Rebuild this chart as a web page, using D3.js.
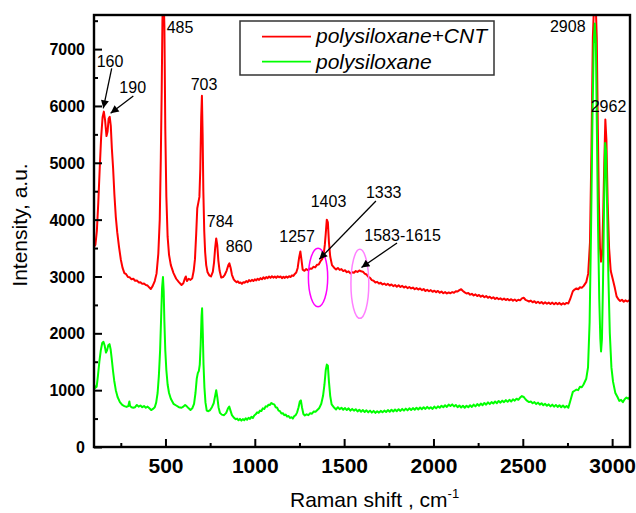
<!DOCTYPE html>
<html>
<head>
<meta charset="utf-8">
<script src="https://cdnjs.cloudflare.com/ajax/libs/d3/7.8.5/d3.min.js"></script>
<style>
  html, body { margin: 0; padding: 0; background: #fff; }
  svg { display: block; font-family: "Liberation Sans", Arial, sans-serif; }
  .tick line { stroke: #000; stroke-width: 2; }
</style>
</head>
<body>
<div id="chart"></div>
<script>
// spectra: [Raman shift, intensity]
const cntSpectrum = [
  [100, 3520], [108, 3560], [116, 3800], [124, 4300], [132, 4900], [140, 5450], [148, 5800], [155, 5900],
  [162, 5750], [170, 5470], [176, 5550], [182, 5780], [188, 5810], [194, 5650], [200, 5250], [207, 4900],
  [214, 4450], [222, 4050], [230, 3780], [240, 3520], [250, 3300], [260, 3150], [270, 3060], [280, 3040],
  [290, 2990], [300, 2985], [310, 2950], [320, 2960], [330, 2925], [340, 2930], [350, 2895], [360, 2900],
  [370, 2870], [380, 2875], [390, 2850], [400, 2840], [410, 2805], [418, 2780], [428, 2830], [440, 2920],
  [450, 3050], [460, 3400], [468, 4000], [474, 5100], [479, 6300], [483, 7500], [486, 7900], [490, 7900],
  [494, 7400], [499, 5600], [505, 4400], [512, 3700], [520, 3380], [530, 3200], [545, 3060], [560, 2960],
  [575, 2900], [590, 2850], [600, 2880], [608, 2960], [614, 3000], [620, 2920], [630, 2960], [640, 2940],
  [650, 2970], [658, 3100], [665, 3300], [672, 3750], [678, 4200], [684, 4300], [690, 4400], [695, 4900],
  [700, 5800], [704, 6180], [708, 5500], [712, 4500], [717, 3800], [722, 3430], [728, 3200], [735, 3080],
  [745, 3020], [755, 3000], [765, 3080], [772, 3250], [778, 3500], [784, 3670], [790, 3550], [796, 3280],
  [803, 3100], [812, 2980], [822, 2990], [832, 3030], [842, 3100], [852, 3200], [858, 3230], [865, 3150],
  [872, 3030], [882, 2950], [890, 2920], [898, 2900], [905, 2915], [912, 2885], [920, 2895], [928, 2870],
  [936, 2900], [944, 2890], [952, 2920], [960, 2900], [968, 2935], [976, 2915], [984, 2940], [992, 2920],
  [1000, 2950], [1008, 2930], [1016, 2960], [1024, 2940], [1032, 2970], [1040, 2950], [1048, 2985], [1056, 2960],
  [1064, 2990], [1072, 2970], [1080, 3000], [1088, 2975], [1096, 3005], [1104, 2980], [1112, 3000], [1120, 2975],
  [1128, 3005], [1136, 2985], [1144, 3000], [1152, 2970], [1160, 2995], [1168, 2975], [1176, 3000], [1184, 2980],
  [1192, 3005], [1200, 2990], [1208, 3020], [1216, 3010], [1224, 3045], [1232, 3070], [1240, 3150], [1248, 3330],
  [1255, 3440], [1261, 3300], [1268, 3120], [1278, 3100], [1288, 3130], [1298, 3110], [1308, 3140], [1318, 3135],
  [1328, 3170], [1338, 3160], [1348, 3205], [1358, 3210], [1368, 3270], [1378, 3310], [1386, 3400], [1392, 3560],
  [1397, 3750], [1403, 4000], [1409, 3950], [1415, 3600], [1422, 3350], [1432, 3200], [1445, 3150], [1455, 3125],
  [1465, 3150], [1475, 3115], [1485, 3130], [1495, 3095], [1505, 3110], [1515, 3075], [1525, 3090], [1535, 3055],
  [1545, 3075], [1555, 3065], [1565, 3095], [1575, 3080], [1585, 3105], [1595, 3090], [1605, 3085], [1615, 3050],
  [1625, 3035], [1635, 2995], [1645, 2975], [1655, 2935], [1665, 2925], [1675, 2895], [1685, 2905], [1695, 2875],
  [1705, 2890], [1715, 2860], [1725, 2875], [1735, 2850], [1745, 2870], [1755, 2840], [1765, 2860], [1775, 2830],
  [1785, 2850], [1795, 2820], [1805, 2845], [1815, 2815], [1825, 2835], [1835, 2805], [1845, 2825], [1855, 2795],
  [1865, 2815], [1875, 2790], [1885, 2805], [1895, 2775], [1905, 2795], [1915, 2770], [1925, 2790], [1935, 2760],
  [1945, 2780], [1955, 2745], [1965, 2765], [1975, 2740], [1985, 2760], [1995, 2730], [2005, 2750], [2015, 2725],
  [2025, 2745], [2035, 2715], [2045, 2735], [2055, 2705], [2065, 2725], [2075, 2700], [2085, 2720], [2095, 2705],
  [2105, 2725], [2115, 2715], [2125, 2740], [2135, 2735], [2145, 2760], [2155, 2775], [2165, 2745], [2175, 2720],
  [2185, 2700], [2195, 2710], [2205, 2680], [2215, 2695], [2225, 2665], [2235, 2685], [2245, 2655], [2255, 2675],
  [2265, 2645], [2275, 2665], [2285, 2635], [2295, 2655], [2305, 2625], [2315, 2645], [2325, 2615], [2335, 2635],
  [2345, 2605], [2355, 2625], [2365, 2600], [2375, 2615], [2385, 2590], [2395, 2610], [2405, 2585], [2415, 2605],
  [2425, 2580], [2435, 2600], [2445, 2575], [2455, 2595], [2465, 2570], [2475, 2590], [2485, 2580], [2495, 2615],
  [2505, 2625], [2515, 2590], [2525, 2575], [2535, 2560], [2545, 2575], [2555, 2545], [2565, 2565], [2575, 2535],
  [2585, 2555], [2595, 2530], [2605, 2550], [2615, 2520], [2625, 2545], [2635, 2520], [2645, 2540], [2655, 2515],
  [2665, 2540], [2675, 2510], [2685, 2535], [2695, 2510], [2705, 2535], [2715, 2505], [2725, 2530], [2735, 2510],
  [2745, 2535], [2755, 2525], [2765, 2600], [2780, 2740], [2790, 2770], [2800, 2790], [2810, 2775], [2820, 2810],
  [2830, 2800], [2840, 2830], [2855, 2900], [2866, 3050], [2876, 3600], [2884, 5200], [2892, 7200], [2900, 7900],
  [2907, 7900], [2914, 7200], [2920, 5600], [2926, 4300], [2932, 3500], [2938, 3260], [2944, 3400], [2950, 4100],
  [2956, 5000], [2962, 5760], [2968, 5400], [2975, 4300], [2983, 3500], [2992, 3100], [3003, 2960], [3015, 2800],
  [3025, 2650], [3035, 2600], [3045, 2570], [3055, 2590], [3065, 2555], [3075, 2580], [3085, 2560], [3100, 2590],
];

const baseSpectrum = [
  [100, 1100], [108, 1040], [115, 1060], [122, 1250], [130, 1500], [138, 1700], [146, 1830], [153, 1850],
  [160, 1780], [167, 1660], [173, 1700], [180, 1790], [187, 1810], [193, 1720], [199, 1560], [206, 1350],
  [213, 1170], [222, 1000], [232, 880], [245, 790], [258, 740], [270, 720], [282, 705], [292, 720],
  [298, 800], [302, 720], [310, 700], [320, 690], [330, 700], [340, 740], [350, 710], [360, 730],
  [370, 700], [380, 720], [390, 690], [400, 710], [410, 680], [420, 650], [430, 670], [440, 700],
  [448, 780], [456, 950], [463, 1250], [470, 1700], [476, 2300], [481, 2800], [486, 2990], [490, 2750],
  [494, 2200], [499, 1700], [505, 1350], [512, 1100], [520, 950], [530, 850], [545, 760], [560, 730],
  [575, 700], [590, 690], [600, 710], [610, 740], [618, 720], [630, 680], [640, 650], [650, 680],
  [660, 760], [668, 950], [675, 1200], [681, 1300], [687, 1340], [692, 1450], [697, 1800], [702, 2300],
  [705, 2440], [709, 2000], [713, 1450], [718, 1050], [724, 780], [731, 640], [740, 630], [750, 650],
  [760, 700], [770, 770], [778, 900], [784, 1000], [790, 880], [797, 700], [805, 600], [815, 570],
  [828, 560], [840, 600], [850, 680], [857, 710], [864, 640], [872, 560], [885, 510], [893, 490],
  [901, 500], [909, 470], [917, 495], [925, 465], [933, 490], [941, 470], [949, 505], [957, 480],
  [965, 515], [973, 495], [981, 530], [989, 510], [997, 555], [1005, 575], [1013, 610], [1021, 600],
  [1029, 640], [1037, 635], [1045, 680], [1053, 670], [1061, 715], [1069, 710], [1077, 745], [1085, 740],
  [1093, 775], [1101, 755], [1109, 750], [1117, 700], [1125, 690], [1133, 640], [1141, 630], [1149, 590],
  [1157, 595], [1165, 560], [1173, 570], [1181, 535], [1189, 545], [1197, 510], [1205, 525], [1213, 500],
  [1221, 545], [1229, 560], [1237, 610], [1245, 700], [1252, 800], [1258, 820], [1264, 700], [1272, 580],
  [1280, 555], [1290, 575], [1300, 560], [1310, 595], [1320, 585], [1330, 625], [1340, 620], [1350, 650],
  [1360, 680], [1372, 760], [1382, 900], [1390, 1100], [1397, 1350], [1403, 1450], [1409, 1430], [1415, 1150],
  [1422, 900], [1430, 750], [1445, 690], [1455, 660], [1465, 700], [1475, 665], [1485, 690], [1495, 655],
  [1505, 685], [1515, 650], [1525, 680], [1535, 640], [1545, 670], [1555, 640], [1565, 665], [1575, 625],
  [1585, 655], [1595, 620], [1605, 650], [1615, 615], [1625, 645], [1635, 610], [1645, 640], [1655, 605],
  [1665, 635], [1675, 600], [1685, 630], [1695, 605], [1705, 635], [1715, 610], [1725, 640], [1735, 615],
  [1745, 650], [1755, 620], [1765, 655], [1775, 625], [1785, 660], [1795, 630], [1805, 665], [1815, 635],
  [1825, 670], [1835, 640], [1845, 675], [1855, 645], [1865, 680], [1875, 650], [1885, 685], [1895, 655],
  [1905, 690], [1915, 660], [1925, 695], [1935, 665], [1945, 700], [1955, 670], [1965, 705], [1975, 675],
  [1985, 700], [1995, 670], [2005, 710], [2015, 680], [2025, 715], [2035, 690], [2045, 725], [2055, 700],
  [2065, 735], [2075, 705], [2085, 745], [2095, 720], [2105, 750], [2115, 715], [2125, 740], [2135, 700],
  [2145, 730], [2155, 695], [2165, 725], [2175, 690], [2185, 725], [2195, 700], [2205, 735], [2215, 705],
  [2225, 745], [2235, 715], [2245, 755], [2255, 725], [2265, 765], [2275, 735], [2285, 775], [2295, 745],
  [2305, 785], [2315, 755], [2325, 790], [2335, 765], [2345, 800], [2355, 770], [2365, 810], [2375, 780],
  [2385, 815], [2395, 790], [2405, 825], [2415, 795], [2425, 830], [2435, 800], [2445, 840], [2455, 815],
  [2465, 850], [2475, 830], [2485, 870], [2495, 895], [2505, 880], [2515, 840], [2525, 810], [2535, 790],
  [2545, 800], [2555, 770], [2565, 790], [2575, 755], [2585, 780], [2595, 745], [2605, 770], [2615, 735],
  [2625, 760], [2635, 725], [2645, 750], [2655, 715], [2665, 745], [2675, 710], [2685, 740], [2695, 705],
  [2705, 735], [2715, 700], [2725, 730], [2735, 695], [2745, 720], [2755, 690], [2765, 800], [2780, 970],
  [2790, 990], [2800, 1010], [2810, 1000], [2820, 1060], [2830, 1050], [2840, 1100], [2855, 1200], [2865, 1400],
  [2874, 2200], [2882, 3800], [2890, 5800], [2897, 7100], [2903, 7450], [2909, 7100], [2915, 5500], [2921, 3900],
  [2928, 2600], [2934, 1900], [2938, 1680], [2943, 1900], [2949, 2900], [2955, 4300], [2961, 5350], [2966, 5200],
  [2972, 4200], [2979, 3000], [2987, 2000], [2996, 1400], [3005, 1150], [3018, 950], [3030, 880], [3040, 810],
  [3050, 830], [3060, 790], [3070, 840], [3080, 870], [3090, 850], [3100, 880],
];

const seriesNames = ['polysiloxane+CNT', 'polysiloxane'];
const seriesColors = ['#ff0000', '#00ff00'];

const xMajorTicks = [500, 1000, 1500, 2000, 2500, 3000];
const xMinorTicks = [250, 750, 1250, 1750, 2250, 2750];
const yMajorTicks = [0, 1000, 2000, 3000, 4000, 5000, 6000, 7000];
const yMinorTicks = [500, 1500, 2500, 3500, 4500, 5500, 6500, 7500];

// peak labels: text, anchor (shift, intensity) of the text start/baseline
const peakLabels = [
  ['160', 115, 6690], ['190', 242, 6233], ['485', 507, 7278], ['703', 641, 6281],
  ['784', 731, 3865], ['860', 837, 3425], ['1257', 1137, 3612], ['1403', 1313, 4217],
  ['1333', 1622, 4375], ['1583-1615', 1613, 3629], ['2908', 2652, 7306], ['2962', 2880, 5899],
];

// arrows: from (shift, intensity) to (shift, intensity)
const peakArrows = [
  [199, 6662, 152, 5959],
  [320, 6175, 193, 5871],
  [1678, 4328, 1361, 3302],
  [1796, 3589, 1597, 3158],
];

// ellipses: centre shift, centre intensity, half width (shift), half height (intensity), colour
const bandMarks = [
  [1354, 2982, 54, 514, '#ff00ff'],
  [1588, 2871, 50, 607, '#ff80ff'],
];

const width = 636;
const height = 513;
const margin = { top: 15, right: 6, bottom: 66, left: 94 };
const plotW = width - margin.left - margin.right;
const plotH = height - margin.top - margin.bottom;

const svg = d3.select('#chart')
  .append('svg')
  .attr('width', width)
  .attr('height', height);

const x = d3.scaleLinear()
  .domain([100, 3100])
  .range([0, plotW]);

const y = d3.scaleLinear()
  .domain([0, 7600])
  .range([plotH, 0]);

svg.append('defs')
  .append('clipPath')
  .attr('id', 'plotClip')
  .append('rect')
  .attr('x', 0)
  .attr('y', 0)
  .attr('width', plotW)
  .attr('height', plotH);

const g = svg.append('g')
  .attr('transform', `translate(${margin.left},${margin.top})`);

// spectra
const line = d3.line()
  .x(d => x(d[0]))
  .y(d => y(d[1]));

const plot = g.append('g')
  .attr('clip-path', 'url(#plotClip)');

[cntSpectrum, baseSpectrum].forEach((data, i) => {
  plot.append('path')
    .datum(data)
    .attr('fill', 'none')
    .attr('stroke', seriesColors[i])
    .attr('stroke-width', 2)
    .attr('stroke-linejoin', 'round')
    .attr('d', line);
});

// axes, ticks pointing inward
const xAxis = g.append('g')
  .attr('transform', `translate(0,${plotH})`)
  .call(d3.axisBottom(x).tickValues(xMajorTicks).tickSize(-8).tickFormat(d3.format('d')));
xAxis.selectAll('text')
  .attr('y', 26)
  .attr('dy', 0)
  .attr('font-size', 21)
  .attr('font-weight', 'bold')
  .attr('font-family', '"Liberation Sans", Arial, sans-serif')
  .attr('fill', '#000');

g.append('g')
  .attr('transform', `translate(0,${plotH})`)
  .call(d3.axisBottom(x).tickValues(xMinorTicks).tickSize(-4).tickFormat(''));

const yAxis = g.append('g')
  .call(d3.axisLeft(y).tickValues(yMajorTicks).tickSize(-8).tickFormat(d3.format('d')));
yAxis.selectAll('text')
  .attr('x', -9)
  .attr('dy', '0.35em')
  .attr('font-size', 16)
  .attr('font-weight', 'bold')
  .attr('font-family', '"Liberation Sans", Arial, sans-serif')
  .attr('fill', '#000');

g.append('g')
  .call(d3.axisLeft(y).tickValues(yMinorTicks).tickSize(-4).tickFormat(''));

g.selectAll('.domain').remove();

g.append('rect')
  .attr('x', 0)
  .attr('y', 0)
  .attr('width', plotW)
  .attr('height', plotH)
  .attr('fill', 'none')
  .attr('stroke', '#000')
  .attr('stroke-width', 2.4);

// ellipses
g.selectAll('ellipse.band')
  .data(bandMarks)
  .enter()
  .append('ellipse')
  .attr('class', 'band')
  .attr('cx', d => x(d[0]))
  .attr('cy', d => y(d[1]))
  .attr('rx', d => x(d[0] + d[2]) - x(d[0]))
  .attr('ry', d => y(d[1] - d[3]) - y(d[1]))
  .attr('fill', 'none')
  .attr('stroke', d => d[4])
  .attr('stroke-width', 1.5);

// arrows
svg.select('defs')
  .append('marker')
  .attr('id', 'arrowHead')
  .attr('viewBox', '0 0 10 10')
  .attr('refX', 10)
  .attr('refY', 5)
  .attr('markerUnits', 'userSpaceOnUse')
  .attr('markerWidth', 10)
  .attr('markerHeight', 8)
  .attr('orient', 'auto')
  .append('path')
  .attr('d', 'M0,0 L10,5 L0,10 z')
  .attr('fill', '#000');

g.selectAll('line.arrow')
  .data(peakArrows)
  .enter()
  .append('line')
  .attr('class', 'arrow')
  .attr('x1', d => x(d[0]))
  .attr('y1', d => y(d[1]))
  .attr('x2', d => x(d[2]))
  .attr('y2', d => y(d[3]))
  .attr('stroke', '#000')
  .attr('stroke-width', 1.3)
  .attr('marker-end', 'url(#arrowHead)');

// peak labels
g.selectAll('text.peak')
  .data(peakLabels)
  .enter()
  .append('text')
  .attr('class', 'peak')
  .attr('x', d => x(d[1]))
  .attr('y', d => y(d[2]))
  .attr('font-size', 16)
  .attr('fill', '#000')
  .text(d => d[0]);

// legend
const legend = svg.append('g')
  .attr('transform', 'translate(240,21)');

legend.append('rect')
  .attr('width', 254)
  .attr('height', 54)
  .attr('fill', '#fff')
  .attr('stroke', '#333')
  .attr('stroke-width', 1.5);

seriesNames.forEach((name, i) => {
  legend.append('line')
    .attr('x1', 22)
    .attr('x2', 71)
    .attr('y1', 15.7 + i * 25)
    .attr('y2', 15.7 + i * 25)
    .attr('stroke', seriesColors[i])
    .attr('stroke-width', 1.8);
  legend.append('text')
    .attr('x', 76)
    .attr('y', 22.3 + i * 25.7)
    .attr('font-size', 21)
    .attr('font-style', 'italic')
    .attr('fill', '#000')
    .text(name);
});

// axis titles
const xTitle = svg.append('text')
  .attr('x', 290)
  .attr('y', 506.5)
  .attr('font-size', 21)
  .attr('fill', '#000');
xTitle.append('tspan').text('Raman shift , cm');
xTitle.append('tspan')
  .attr('dy', -9)
  .attr('font-size', 13)
  .text('-1');

svg.append('text')
  .attr('transform', 'translate(27,225) rotate(-90)')
  .attr('text-anchor', 'middle')
  .attr('font-size', 21)
  .attr('fill', '#000')
  .text('Intensity,  a.u.');
</script>
</body>
</html>
